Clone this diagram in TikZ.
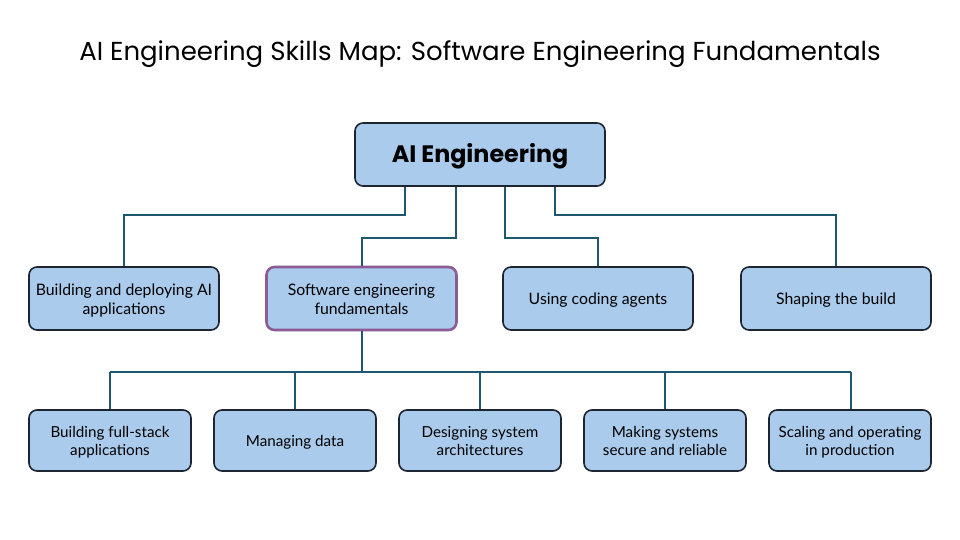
\documentclass[tikz,border=0pt]{standalone}
\usepackage{fontspec}
\setmainfont{Lato}
\newfontfamily\popfont{Poppins}
\definecolor{boxfill}{HTML}{AACBEC}
\definecolor{boxline}{HTML}{1C2530}
\definecolor{conn}{HTML}{1F5670}
\definecolor{purp}{HTML}{8C5B96}
\newcommand\skl[1]{\raisebox{-2.5pt}[\height][\depth]{\begin{tabular}{@{}c@{}}#1\end{tabular}}}
\begin{document}
\begin{tikzpicture}[x=1pt,y=-1pt,
  skbox/.style={draw=boxline, line width=1.6pt, fill=boxfill, rounded corners=8pt,
    align=center, inner sep=0pt, font=\fontsize{15.8}{19}\selectfont, text=black},
  midbox/.style={skbox, minimum width=190pt, minimum height=63pt},
  lowbox/.style={skbox, minimum width=162pt, minimum height=61pt, font=\fontsize{15.2}{18.5}\selectfont},
  link/.style={draw=conn, line width=2.2pt, line join=miter}]
\useasboundingbox (0,0) rectangle (960,540);
\node[font=\popfont\fontsize{26}{30}\selectfont] (title) at (480,54) {AI Engineering Skills Map: Software Engineering Fundamentals};
\node[skbox, minimum width=250pt, minimum height=63pt, font=\popfont\bfseries\fontsize{23.8}{28}\selectfont] (root) at (480,154.5) {\skl{AI Engineering}};
\node[midbox] (m1) at (124,298.5) {\skl{Building and deploying AI\\applications}};
\node[midbox, draw=purp, line width=2.6pt] (m2) at (361.5,298.5) {\skl{Software engineering\\fundamentals}};
\node[midbox] (m3) at (598,298.5) {\skl{Using coding agents}};
\node[midbox] (m4) at (836,298.5) {\skl{Shaping the build}};
\node[lowbox] (b1) at (110,440.5) {\skl{Building full-stack\\applications}};
\node[lowbox] (b2) at (295,440.5) {\skl{Managing data}};
\node[lowbox] (b3) at (480,440.5) {\skl{Designing system\\architectures}};
\node[lowbox] (b4) at (665,440.5) {\skl{Making systems\\secure and reliable}};
\node[lowbox] (b5) at (850,440.5) {\skl{Scaling and operating\\in production}};
\coordinate (bus) at (0,372);
\coordinate (k1) at (405,215);
\coordinate (k2) at (456,238);
\coordinate (k3) at (505,238);
\coordinate (k4) at (555,215);
\draw[link] (root.south -| k1) -- (k1) -| (m1.north);
\draw[link] (root.south -| k2) -- (k2) -| (m2.north -| 362,0);
\draw[link] (root.south -| k3) -- (k3) -| (m3.north);
\draw[link] (root.south -| k4) -- (k4) -| (m4.north);
\draw[link] (m2.south -| 362,0) -- (362,372);
\draw[link] (b1.north |- bus) -- (851,372);
\draw[link] (b1.north |- bus) -- (b1.north);
\draw[link] (b2.north |- bus) -- (b2.north);
\draw[link] (b3.north |- bus) -- (b3.north);
\draw[link] (b4.north |- bus) -- (b4.north);
\draw[link] (851,372) -- (b5.north -| 851,0);
\end{tikzpicture}
\end{document}
